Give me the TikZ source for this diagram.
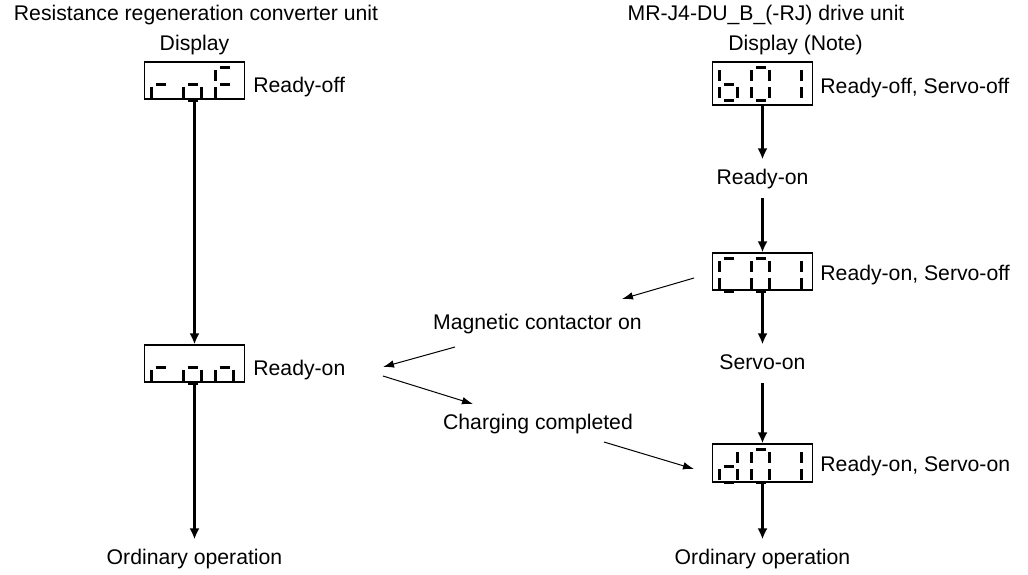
\documentclass[tikz,border=0pt]{standalone}
\usepackage{fontspec}
\setmainfont{Liberation Sans}
\usepackage{tikz}
\usetikzlibrary{arrows.meta, calc}
\tikzset{
    panel/.style  = {draw=black, line width=0.6pt, minimum width=50pt, inner sep=0pt},
    seg/.style    = {line width=1.5pt, line cap=butt},
    lbl/.style    = {text height=7.6pt, text depth=2pt, inner xsep=0pt, inner ysep=4.75pt},
    flow/.style   = {-{Latex[length=5.5pt,width=5pt]}, line width=1.1pt},
    hint/.style   = {-{Latex[length=5.5pt,width=3.8pt]}, line width=0.5pt},
}
% one segment each, digit origin at the top left corner
\newcommand{\dsega}{\draw[seg] (4,0) -- (14,0);}
\newcommand{\dsegb}{\draw[seg] (18,3) -- (18,14);}
\newcommand{\dsegc}{\draw[seg] (18,20) -- (18,30.5);}
\newcommand{\dsegd}{\draw[seg] (4,33) -- (14,33);}
\newcommand{\dsege}{\draw[seg] (0,20) -- (0,30.5);}
\newcommand{\dsegf}{\draw[seg] (0,3) -- (0,14);}
\newcommand{\dsegg}{\draw[seg] (4,17) -- (14,17);}
\newcommand{\segdigit}[3]{%
    \begin{scope}[shift={($(#1.north west)+(#2,6)$)}]
        \foreach \s in {#3} {\csname dseg\s\endcsname}
    \end{scope}}

\begin{document}
\begin{tikzpicture}[x=0.5pt, y=-0.5pt, font={\fontsize{10.6pt}{12.7pt}\selectfont}]
    \fill[white] (0,0) rectangle (1028,574);
    \useasboundingbox (0,0) rectangle (1028,574);

    \node[lbl, anchor=base] (hdl) at (196,20.7) {Resistance regeneration converter unit};
    \node[lbl, anchor=base] (dspl) at (194.5,50.6) {Display};
    \node[lbl, anchor=base] (hdr) at (766,20.7) {MR-J4-DU\_B\_(-RJ) drive unit};
    \node[lbl, anchor=base west] (dspr) at (728,50.6) {Display (Note)};

    \node[panel, minimum height=18.5pt] (rof) at (194.5,80.5) {};
    \node[panel, minimum height=18.5pt] (ron) at (194.5,363.5) {};
    \node[panel, minimum height=21.5pt] (b01) at (762.5,83.5) {};
    \node[panel, minimum height=18.5pt] (c01) at (762.5,271.5) {};
    \node[panel, minimum height=19pt] (d01) at (762.5,463) {};

    \segdigit{rof}{8}{e,g}
    \segdigit{rof}{40}{c,d,e,g}
    \segdigit{rof}{72}{a,e,f,g}
    \segdigit{ron}{8}{e,g}
    \segdigit{ron}{40}{c,d,e,g}
    \segdigit{ron}{72}{c,e,g}
    \segdigit{b01}{8}{c,d,e,f,g}
    \segdigit{b01}{40}{a,b,c,d,e,f}
    \segdigit{b01}{72}{b,c}
    \segdigit{c01}{8}{a,d,e,f}
    \segdigit{c01}{40}{a,b,c,d,e,f}
    \segdigit{c01}{72}{b,c}
    \segdigit{d01}{8}{b,c,d,e,g}
    \segdigit{d01}{40}{a,b,c,d,e,f}
    \segdigit{d01}{72}{b,c}

    \node[lbl, anchor=base west] (roffl) at (253,92.7) {Ready-off};
    \node[lbl, anchor=base west] (ronl) at (253,375) {Ready-on};
    \node[lbl, anchor=base west] (b01l) at (820,93.3) {Ready-off, Servo-off};
    \node[lbl, anchor=base west] (c01l) at (820,280) {Ready-on, Servo-off};
    \node[lbl, anchor=base west] (d01l) at (820,471) {Ready-on, Servo-on};

    \node[lbl, anchor=base] (rdy) at (762.5,184.5) {Ready-on};
    \node[lbl, anchor=base] (svo) at (762.5,369.5) {Servo-on};
    \node[lbl, anchor=base] (ordr) at (762.5,564.5) {Ordinary operation};
    \node[lbl, anchor=base] (ordl) at (194.5,564.5) {Ordinary operation};
    \node[lbl, anchor=base] (mag) at (537.5,329.3) {Magnetic contactor on};
    \node[lbl, anchor=base] (chg) at (538,429.3) {Charging completed};

    \draw[flow] (rof) -- (ron);
    \draw[flow] (ron) -- (ordl);
    \draw[flow] (b01) -- (rdy);
    \draw[flow] (rdy) -- (c01);
    \draw[flow] (c01) -- (svo);
    \draw[flow] (svo) -- (d01);
    \draw[flow] (d01) -- (ordr);

    \coordinate (mag-a) at (694,278);
    \coordinate (mag-b) at (622,299);
    \coordinate (mag-c) at (455,347);
    \coordinate (mag-d) at (383,367);
    \coordinate (chg-a) at (383,376);
    \coordinate (chg-b) at (473,404);
    \coordinate (chg-c) at (604,442);
    \coordinate (chg-d) at (694,469);
    \draw[hint] (mag-a) -- (mag-b);
    \draw[hint] (mag-c) -- (mag-d);
    \draw[hint] (chg-a) -- (chg-b);
    \draw[hint] (chg-c) -- (chg-d);
\end{tikzpicture}
\end{document}
